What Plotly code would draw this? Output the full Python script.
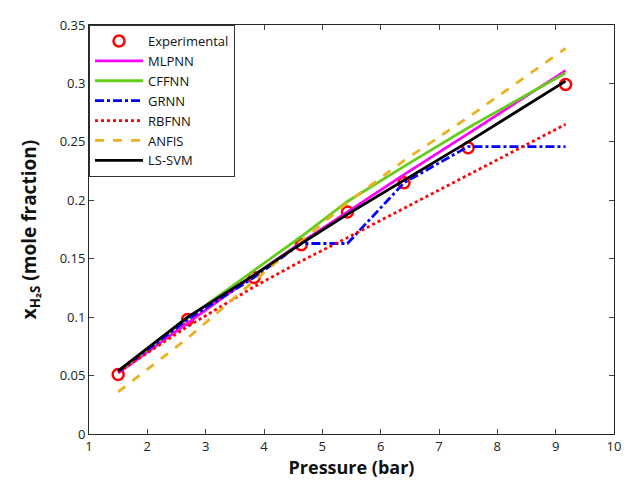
import plotly.graph_objects as go

pressure = [1.5, 2.69, 3.83, 4.64, 5.43, 6.40, 7.50, 9.17]
experimental = [0.051, 0.098, 0.134, 0.162, 0.190, 0.215, 0.245, 0.299]
mlpnn = [0.052, 0.095, 0.136, 0.164, 0.190, 0.222, 0.257, 0.311]
cffnn = [0.053, 0.099, 0.140, 0.169, 0.199, 0.229, 0.262, 0.309]
grnn = [0.053, 0.098, 0.134, 0.163, 0.163, 0.215, 0.246, 0.246]
rbfnn = [0.053, 0.092, 0.126, 0.148, 0.168, 0.193, 0.222, 0.265]
anfis = [0.036, 0.082, 0.131, 0.165, 0.198, 0.234, 0.271, 0.330]
lssvm = [0.054, 0.100, 0.136, 0.163, 0.188, 0.217, 0.250, 0.302]

x_ticks = [1, 2, 3, 4, 5, 6, 7, 8, 9, 10]
y_ticks = [0, 0.05, 0.1, 0.15, 0.2, 0.25, 0.3, 0.35]
y_tick_labels = ["0", "0.05", "0.1", "0.15", "0.2", "0.25", "0.3", "0.35"]

FONT = "Open Sans, sans-serif"

fig = go.Figure()
fig.add_trace(go.Scatter(x=pressure, y=experimental, mode="markers", name="Experimental",
                         marker=dict(symbol="circle-open", size=11, color="#ff0000",
                                     line=dict(width=2.5, color="#ff0000"))))
fig.add_trace(go.Scatter(x=pressure, y=mlpnn, mode="lines", name="MLPNN",
                         line=dict(color="#ff00ff", width=2.8)))
fig.add_trace(go.Scatter(x=pressure, y=cffnn, mode="lines", name="CFFNN",
                         line=dict(color="#66cc1a", width=2.8)))
fig.add_trace(go.Scatter(x=pressure, y=grnn, mode="lines", name="GRNN",
                         line=dict(color="#0000ff", width=2.8, dash="dashdot")))
fig.add_trace(go.Scatter(x=pressure, y=rbfnn, mode="lines", name="RBFNN",
                         line=dict(color="#ff0000", width=2.8, dash="dot")))
fig.add_trace(go.Scatter(x=pressure, y=anfis, mode="lines", name="ANFIS",
                         line=dict(color="#edb120", width=2.8, dash="dash")))
fig.add_trace(go.Scatter(x=pressure, y=lssvm, mode="lines", name="LS-SVM",
                         line=dict(color="#000000", width=2.8)))

# The page body adds an 8px offset; margins compensate for it.
fig.update_layout(
    width=621, height=481,
    margin=dict(l=81, r=8, t=9, b=55),
    paper_bgcolor="white", plot_bgcolor="white",
    font=dict(family=FONT, size=13, color="#222222"),
    showlegend=True,
    legend=dict(x=0.0, y=1.0, xanchor="left", yanchor="top",
                bgcolor="white", bordercolor="#333333", borderwidth=1,
                font=dict(family=FONT, size=13, color="#111111"),
                tracegroupgap=0, itemwidth=48),
    xaxis=dict(range=[1, 10], tickvals=x_ticks, ticks="inside", ticklen=5,
               ticklabeloverflow="allow",
               showline=True, linecolor="#262626", linewidth=1, mirror="ticks",
               showgrid=False, zeroline=False,
               title=dict(text="<b>Pressure (bar)</b>", font=dict(size=18, family=FONT, color="#111111"), standoff=6)),
    yaxis=dict(range=[0, 0.35], tickvals=y_ticks, ticktext=y_tick_labels, ticks="inside", ticklen=5,
               ticklabeloverflow="allow",
               showline=True, linecolor="#262626", linewidth=1, mirror="ticks",
               showgrid=False, zeroline=False,
               title=dict(text="<b>x<sub>H₂S</sub> (mole fraction)</b>", font=dict(size=19, family=FONT, color="#111111"), standoff=18)),
)

fig.write_html("out.html")
